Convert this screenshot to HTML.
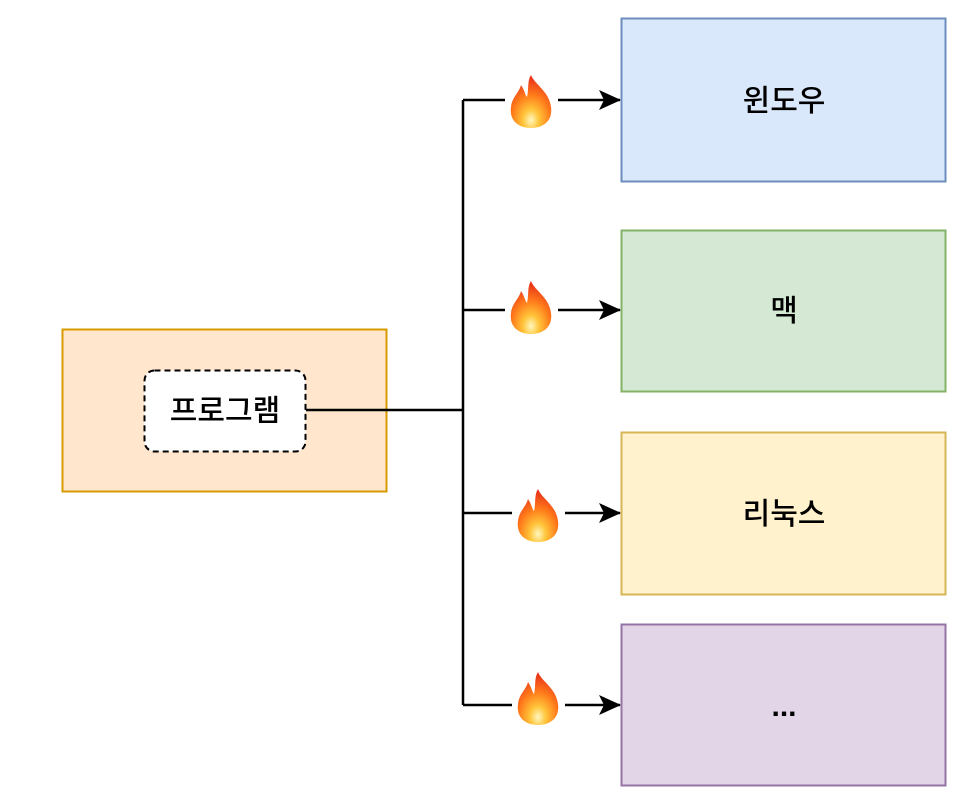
<!DOCTYPE html>
<html><head><meta charset="utf-8"><style>
body{margin:0;background:#fff;width:978px;height:806px;overflow:hidden}
svg text{font-family:"Liberation Sans","Noto Sans CJK KR",sans-serif;font-size:30px;font-weight:500;fill:#000}
</style></head><body>
<svg width="978" height="806" viewBox="0 0 978 806" xmlns="http://www.w3.org/2000/svg">
<defs>
<radialGradient id="fg" cx="0.5" cy="0.85" r="0.8">
<stop offset="0" stop-color="#fff7c0"/><stop offset="0.25" stop-color="#ffc53a"/>
<stop offset="0.6" stop-color="#ff7a1a"/><stop offset="1" stop-color="#e8321a"/></radialGradient>
<marker id="ar" markerWidth="22" markerHeight="20" refX="21" refY="10" orient="auto" markerUnits="userSpaceOnUse">
<path d="M0,0 L22,10 L0,20 L5,10 Z" fill="#000"/></marker>
<g id="fire"><path d="M0,-26 C4,-16 18,-10 20,6 C22,20 12,27 0,27 C-12,27 -22,20 -20,6 C-19,-4 -12,-8 -10,-16 C-6,-10 -6,-6 -4,-4 C-2,-12 -4,-20 0,-26 Z" fill="url(#fg)"/></g>
</defs>
<rect x="62.5" y="329.5" width="324" height="162" fill="#ffe6cc" stroke="#d79b00" stroke-width="2"/>
<rect x="144.5" y="370.5" width="161" height="81" rx="10" fill="#fff" stroke="#000" stroke-width="2" stroke-dasharray="6,4"/>
<text x="225" y="421" text-anchor="middle">프로그램</text>
<rect x="621.5" y="18.5" width="324" height="163" fill="#dae8fc" stroke="#6c8ebf" stroke-width="2"/>
<text x="784" y="111" text-anchor="middle">윈도우</text>
<rect x="621.5" y="230.5" width="324" height="161" fill="#d5e8d4" stroke="#82b366" stroke-width="2"/>
<text x="784" y="321" text-anchor="middle">맥</text>
<rect x="621.5" y="432.5" width="324" height="162" fill="#fff2cc" stroke="#d6b656" stroke-width="2"/>
<text x="784" y="524" text-anchor="middle">리눅스</text>
<rect x="621.5" y="624.5" width="324" height="161" fill="#e1d5e7" stroke="#9673a6" stroke-width="2"/>
<text x="784" y="716" text-anchor="middle" style="font-weight:bold">...</text>
<g stroke="#000" stroke-width="2.5" fill="none">
<path d="M306,410 H463"/>
<path d="M463,100 V705"/>
<path d="M463,100 H505"/><path d="M558,100 H620" marker-end="url(#ar)"/>
<path d="M463,310 H505"/><path d="M558,310 H620" marker-end="url(#ar)"/>
<path d="M463,513 H512"/><path d="M565,513 H620" marker-end="url(#ar)"/>
<path d="M463,705 H512"/><path d="M565,705 H620" marker-end="url(#ar)"/>
</g>
<use href="#fire" x="531" y="101"/>
<use href="#fire" x="531" y="307"/>
<use href="#fire" x="538" y="515"/>
<use href="#fire" x="538" y="698"/>
</svg>
</body></html>
